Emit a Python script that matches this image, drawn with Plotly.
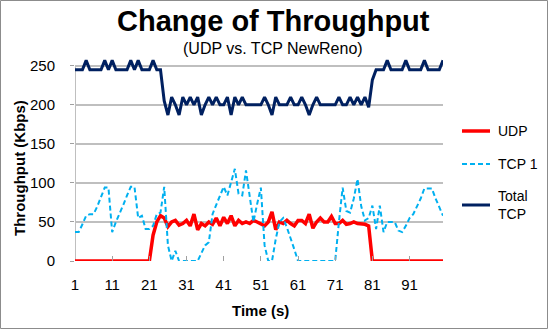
import plotly.graph_objects as go

time_s = list(range(1, 101))

udp = ([0] * 21 +
       [33, 50, 58, 55, 44, 50, 52, 46, 48, 52, 45, 60, 40, 48, 45, 50, 47, 55, 45,
        56, 48, 58, 45, 52, 48, 50, 48, 52, 50, 48, 45, 50, 63, 40, 50, 48, 52, 48,
        45, 52, 52, 48, 60, 42, 50, 55, 50, 50, 57, 48, 48, 52, 47, 48, 50, 48, 48,
        47, 45] +
       [0] * 20)

tcp1 = [37, 37, 47, 58, 60, 60, 70, 83, 94, 94,
        37, 50, 60, 72, 84, 95, 95, 55, 58, 41,
        41, 45, 60, 62, 95, 20, 0, 13, 0, 0,
        0, 0, 0, 0, 10, 20, 24, 60, 72, 84,
        95, 84, 100, 118, 86, 84, 116, 80, 50, 73,
        94, 20, 0, 0, 28, 50, 55, 43, 30, 15,
        0, 0, 0, 0, 0, 0, 0, 0, 0, 0,
        0, 50, 94, 64, 62, 80, 105, 70, 52, 55,
        71, 41, 71, 37, 50, 50, 50, 39, 37, 45,
        55, 60, 70, 80, 93, 93, 93, 80, 70, 58]

total_tcp = [245, 245, 245, 257, 245, 245, 245, 245, 257, 245,
             257, 245, 245, 245, 245, 257, 245, 257, 245, 245,
             245, 257, 245, 245, 205, 187, 210, 200, 187, 210,
             200, 210, 200, 210, 187, 200, 210, 200, 210, 200,
             200, 210, 187, 210, 200, 210, 200, 200, 200, 200,
             200, 210, 200, 187, 210, 200, 200, 200, 210, 200,
             200, 210, 200, 187, 200, 210, 200, 200, 200, 200,
             200, 210, 200, 200, 210, 200, 210, 200, 210, 197,
             232, 245, 245, 245, 257, 245, 245, 245, 245, 257,
             245, 245, 245, 245, 257, 245, 245, 245, 245, 257]

x_ticks = [1, 11, 21, 31, 41, 51, 61, 71, 81, 91]
y_ticks = [0, 50, 100, 150, 200, 250]

series_names = ["UDP", "TCP 1", "Total TCP"]
colors = ["#FF0000", "#00B0F0", "#002060"]

W, H = 548, 329
L, R, T, B = 75, 105, 58, 68
PW, PH = W - L - R, H - T - B


def px(xp):
    return (xp - L) / PW


def py(yp):
    return (H - B - yp) / PH


fig = go.Figure()
fig.add_trace(go.Scatter(x=time_s, y=udp, mode="lines", name=series_names[0],
                         line=dict(color=colors[0], width=3.5), showlegend=False))
fig.add_trace(go.Scatter(x=time_s, y=tcp1, mode="lines", name=series_names[1],
                         line=dict(color=colors[1], width=2, dash="5px,3px"), showlegend=False))
fig.add_trace(go.Scatter(x=time_s, y=total_tcp, mode="lines", name=series_names[2],
                         line=dict(color=colors[2], width=3), showlegend=False))

font = "Liberation Sans, Arial, sans-serif"

shapes = [
    # chart border
    dict(type="rect", xref="paper", yref="paper", x0=px(0.5), x1=px(W - 0.5),
         y0=py(H - 0.5), y1=py(0.5), line=dict(color="#8C8C8C", width=1), layer="below"),
    # y axis line
    dict(type="line", xref="x", yref="y", x0=1, x1=1, y0=0, y1=250,
         line=dict(color="#BFBFBF", width=2), layer="below"),
]

# legend samples
leg_y = [131, 164, 205]
dashes = ["solid", "5px,3px", "solid"]
widths = [3.5, 2, 3]
for yy, c, d, w in zip(leg_y, colors, dashes, widths):
    shapes.append(dict(type="line", xref="paper", yref="paper", x0=px(462), x1=px(490),
                       y0=py(yy), y1=py(yy), line=dict(color=c, width=w, dash=d)))

annotations = [
    dict(text="<b>Change of Throughput</b>", x=px(273), y=py(21), xref="paper", yref="paper",
         showarrow=False, font=dict(family=font, size=29, color="#000000"),
         xanchor="center", yanchor="middle"),
    dict(text="(UDP vs. TCP NewReno)", x=px(273), y=py(49), xref="paper", yref="paper",
         showarrow=False, font=dict(family=font, size=16, color="#000000"),
         xanchor="center", yanchor="middle"),
    dict(text="<b>Throughput (Kbps)</b>", x=px(19), y=py(168), xref="paper", yref="paper",
         showarrow=False, textangle=-90, font=dict(family=font, size=15, color="#000000"),
         xanchor="center", yanchor="middle"),
    dict(text="<b>Time (s)</b>", x=px(260), y=py(310), xref="paper", yref="paper",
         showarrow=False, font=dict(family=font, size=15, color="#000000"),
         xanchor="center", yanchor="middle"),
    dict(text="UDP", x=px(496), y=py(131), xref="paper", yref="paper", showarrow=False,
         font=dict(family=font, size=14, color="#000000"), xanchor="left", yanchor="middle"),
    dict(text="TCP 1", x=px(496), y=py(164), xref="paper", yref="paper", showarrow=False,
         font=dict(family=font, size=14, color="#000000"), xanchor="left", yanchor="middle"),
    dict(text="Total<br>TCP", x=px(496), y=py(205), xref="paper", yref="paper", showarrow=False,
         font=dict(family=font, size=14, color="#000000"), xanchor="left", yanchor="middle",
         align="left"),
]

fig.update_layout(
    width=W, height=H,
    margin=dict(l=L, r=R, t=T, b=B, pad=0),
    paper_bgcolor="white", plot_bgcolor="white",
    showlegend=False,
    shapes=shapes,
    annotations=annotations,
    xaxis=dict(range=[1, 100], tickvals=x_ticks, ticktext=[str(v) for v in x_ticks],
               showgrid=False, zeroline=False, showline=False,
               ticks="inside", ticklen=5, tickwidth=1, tickcolor="#A0A0A0",
               ticklabelstandoff=13,
               tickfont=dict(family=font, size=15, color="#000000")),
    yaxis=dict(range=[0, 260], tickvals=y_ticks, ticktext=[str(v) for v in y_ticks],
               showgrid=True, gridcolor="#BFBFBF", gridwidth=2, zeroline=False,
               showline=False, ticks="outside", ticklen=4, tickwidth=1, tickcolor="#A0A0A0",
               ticklabelstandoff=12,
               tickfont=dict(family=font, size=15, color="#000000")),
)

fig.write_html("out.html")
